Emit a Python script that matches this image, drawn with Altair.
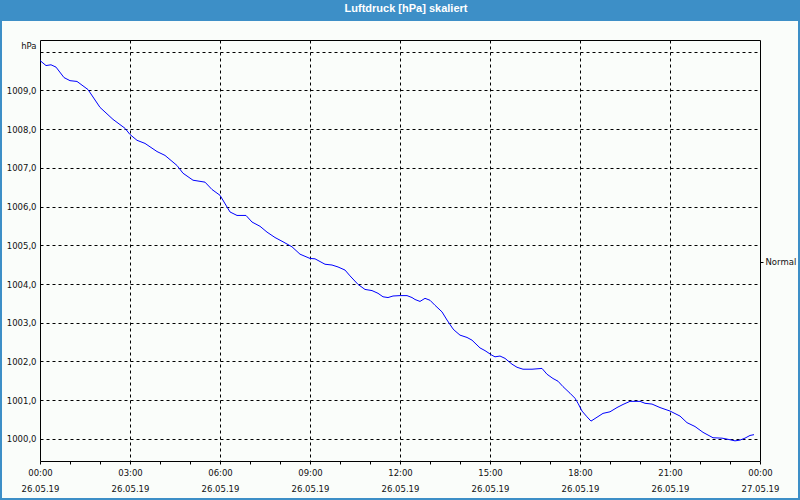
import altair as alt
import pandas as pd

# ---- data ----
times = ["00:00", "00:12", "00:22", "00:32", "00:48", "01:00", "01:14", "01:36", "02:00", "02:26",
         "02:50", "03:00", "03:14", "03:30", "03:54", "04:10", "04:34", "04:46", "05:06", "05:30",
         "05:44", "06:00", "06:20", "06:34", "06:52", "07:04", "07:20", "07:34", "07:50", "08:06",
         "08:24", "08:40", "09:00", "09:10", "09:30", "09:44", "09:56", "10:10", "10:20", "10:36",
         "10:50", "11:04", "11:16", "11:26", "11:36", "11:46", "12:00", "12:14", "12:24", "12:30",
         "12:40", "12:50", "13:00", "13:10", "13:24", "13:34", "13:46", "13:50", "14:00", "14:14",
         "14:24", "14:40", "14:50", "15:04", "15:10", "15:20", "15:30", "15:44", "15:54", "16:06",
         "16:24", "16:44", "16:54", "17:06", "17:16", "17:26", "17:40", "17:50", "17:56", "18:04",
         "18:14", "18:22", "18:34", "18:46", "19:00", "19:14", "19:26", "19:40", "20:00", "20:10",
         "20:24", "20:40", "21:00", "21:20", "21:34", "21:50", "22:06", "22:26", "22:44", "22:56",
         "23:10", "23:20", "23:30", "23:40", "23:48"]
pressure = [1009.77, 1009.64, 1009.66, 1009.60, 1009.33, 1009.25, 1009.23, 1009.02, 1008.56, 1008.25,
            1008.02, 1007.86, 1007.71, 1007.63, 1007.42, 1007.32, 1007.06, 1006.86, 1006.68, 1006.63,
            1006.44, 1006.29, 1005.86, 1005.77, 1005.77, 1005.60, 1005.49, 1005.34, 1005.20, 1005.09,
            1004.96, 1004.77, 1004.66, 1004.65, 1004.51, 1004.49, 1004.44, 1004.36, 1004.21, 1003.99,
            1003.86, 1003.83, 1003.76, 1003.67, 1003.65, 1003.69, 1003.70, 1003.70, 1003.65, 1003.60,
            1003.55, 1003.63, 1003.58, 1003.45, 1003.28, 1003.07, 1002.84, 1002.79, 1002.68, 1002.62,
            1002.55, 1002.35, 1002.28, 1002.16, 1002.12, 1002.14, 1002.08, 1001.93, 1001.85, 1001.80,
            1001.80, 1001.82, 1001.67, 1001.56, 1001.49, 1001.35, 1001.18, 1001.05, 1000.92, 1000.72,
            1000.57, 1000.46, 1000.56, 1000.66, 1000.70, 1000.81, 1000.89, 1000.97, 1000.97, 1000.92,
            1000.90, 1000.81, 1000.72, 1000.59, 1000.42, 1000.32, 1000.17, 1000.03, 1000.02, 999.99,
            999.95, 999.97, 1000.02, 1000.09, 1000.11]
x_ticks = list(range(0, 25))
y_ticks = list(range(1000, 1011))
day1, day2 = "26.05.19", "27.05.19"
title_text = "Luftdruck [hPa] skaliert"
y_unit = "hPa"
series_name = "Normal"
normal_level = 1004.58

def to_hours(t):
    h, m = t.split(":")
    return int(h) + int(m) / 60.0

df = pd.DataFrame({"time": times, "hours": [to_hours(t) for t in times], "pressure": pressure})

BLUE_BAR = "#3D8FC7"
BG = "#FAFDFA"
FONT = "DejaVu Sans"

xscale = alt.Scale(domain=[0, 24], nice=False, zero=False)
yscale = alt.Scale(domain=[999.43, 1010.30], nice=False, zero=False)

x_label_expr = (
    "datum.value % 3 == 0 ? [format(datum.value % 24, '02d') + ':00', "
    f"datum.value == 24 ? '{day2}' : '{day1}'] : ''"
)

x_axis = alt.Axis(
    values=x_ticks, labelExpr=x_label_expr, title=None,
    grid=True, gridColor="black", gridDash=[3, 3], gridWidth=1,
    gridOpacity={"condition": {"test": "datum.value % 3 == 0 && datum.value > 0 && datum.value < 24", "value": 1}, "value": 0},
    ticks=True, tickSize=3, tickColor="black", domain=False,
    labelFont=FONT, labelFontSize=8.5, labelColor="#111111", labelPadding=4,
    labelLineHeight=16, labelAlign="center", labelBaseline="top", labelFlush=False,
    labelOverlap=False,
)

y_axis = alt.Axis(
    values=y_ticks,
    labelExpr="datum.value >= 1010 ? '' : replace(format(datum.value, '.1f'), '.', ',')",
    grid=True, gridColor="black", gridDash=[3, 3], gridWidth=1,
    ticks=False, domain=False, labelPadding=4,
    labelFont=FONT, labelFontSize=8.5, labelColor="#111111",
    title=y_unit, titleAngle=0, titleX=-4, titleY=5, titleAlign="right", titleBaseline="middle",
    titleFont=FONT, titleFontSize=8.5, titleFontWeight="normal", titleColor="#111111",
)

line = alt.Chart(df).mark_line(color="#0000FF", strokeWidth=1, clip=True).encode(
    x=alt.X("hours:Q", scale=xscale, axis=x_axis),
    y=alt.Y("pressure:Q", scale=yscale, axis=y_axis),
)

right = alt.Chart(df).mark_line(strokeOpacity=0).encode(
    x=alt.X("hours:Q", scale=xscale, axis=x_axis),
    y=alt.Y("pressure:Q", scale=yscale, axis=alt.Axis(
        orient="right", values=[normal_level], labelExpr=f"'{series_name}'",
        grid=False, domain=False, ticks=True, tickSize=3, tickColor="black",
        labelPadding=2, labelFont=FONT, labelFontSize=8.5, labelColor="#111111", title=None,
    )),
)

one = alt.Data(values=[{}])
bar = alt.Chart(one).mark_rect(color=BLUE_BAR, clip=False).encode(
    x=alt.value(-40), x2=alt.value(760), y=alt.value(-40), y2=alt.value(-19)
)
border = alt.Chart(one).mark_rect(filled=False, stroke=BLUE_BAR, strokeWidth=2, clip=False).encode(
    x=alt.value(-39), x2=alt.value(759), y=alt.value(-39), y2=alt.value(459)
)
title = alt.Chart(one).mark_text(
    color="white", font="Liberation Sans", fontSize=11, fontWeight="bold",
    align="center", baseline="middle", clip=False,
).encode(x=alt.value(366), y=alt.value(-31), text=alt.value(title_text))

chart = alt.layer(bar, border, title, line, right).resolve_axis(y="independent").properties(
    width=720, height=421,
    autosize=alt.AutoSizeParams(type="none"),
    padding={"left": 40, "top": 40, "right": 40, "bottom": 39},
    background=BG,
).configure_view(stroke="black", strokeWidth=1, fill=BG)

chart.save("out.html", embed_options={"renderer": "svg", "actions": False})
